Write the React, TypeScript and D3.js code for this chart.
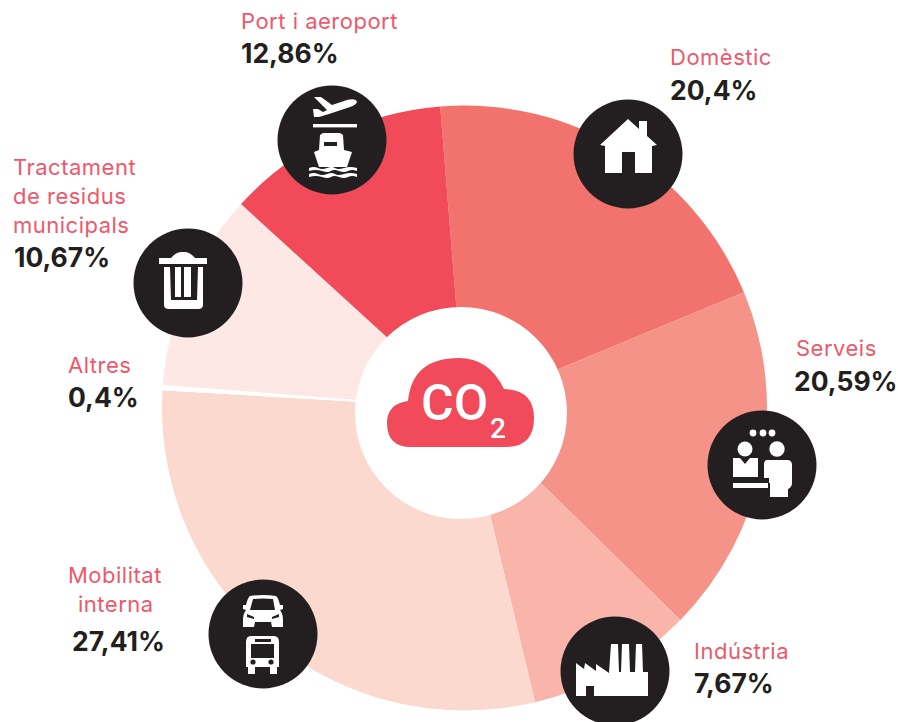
import React from "react";
import * as d3 from "d3";

// Printed labels
const categories = ["Domèstic", "Serveis", "Indústria", "Mobilitat interna", "Altres", "Tractament de residus municipals", "Port i aeroport"];
const printedValues = ["20,4%", "20,59%", "7,67%", "27,41%", "0,4%", "10,67%", "12,86%"];
// Sweep of each slice as it is drawn in the picture (share of the circle)
const drawnShares = [20.03, 18.6, 8.9, 29.68, 0.28, 10.56, 11.95];
const sliceColors = ["#f2726d", "#f59389", "#f9b5aa", "#fbd9cf", "#ffffff", "#fde8e5", "#f14a58"];

const W = 898, H = 722;
const CX = 464.5, CY = 408, R = 302.5;
const HOLE_CX = 461, HOLE_CY = 413, HOLE_R = 106;
const START = (-4.6 * Math.PI) / 180;
const RED = "#f0576a", INK = "#231f20", BADGE = "#231f20";

const pie = d3.pie<number>().sort(null).startAngle(START).endAngle(START + 2 * Math.PI);
const arc = d3.arc<d3.PieArcDatum<number>>().innerRadius(0).outerRadius(R);

type Lab = { lines: { t: string; x: number; y: number }[]; vx: number; vy: number };
const labelLayout: Lab[] = [
  { lines: [{ t: "Domèstic", x: 670, y: 65 }], vx: 670, vy: 100 },
  { lines: [{ t: "Serveis", x: 796, y: 356 }], vx: 794, vy: 391 },
  { lines: [{ t: "Indústria", x: 694, y: 659 }], vx: 694, vy: 693 },
  { lines: [{ t: "Mobilitat", x: 68, y: 583 }, { t: "interna", x: 78, y: 612 }], vx: 72, vy: 651 },
  { lines: [{ t: "Altres", x: 68, y: 373 }], vx: 68, vy: 407 },
  { lines: [{ t: "Tractament", x: 13, y: 175 }, { t: "de residus", x: 13, y: 204 }, { t: "municipals", x: 13, y: 233 }], vx: 14, vy: 267 },
  { lines: [{ t: "Port i aeroport", x: 241, y: 29 }], vx: 241, vy: 63 },
];

const HomeIcon = () => (
  <g fill="#fff">
    <path d="M0,-35 L11,-25 L11,-33 L19,-33 L19,-18 L29,-9 L24,-8 L24,19 L7,19 L7,-2 L-6,-2 L-6,19 L-23,19 L-23,-8 L-28,-9 Z" />
  </g>
);
const ServeisIcon = () => (
  <g fill="#fff">
    {[-9, 1, 10].map((x) => <circle key={x} cx={x} cy={-32} r={3.4} />)}
    <circle cx={-17} cy={-16} r={7.5} />
    <circle cx={15} cy={-16} r={7.7} />
    <path d="M-29,-7 L-22,-7 L-17,-1 L-12,-7 L-4,-7 L-4,12 L-29,12 Z" />
    <path d="M-29,18 L6,18 L6,23 L-29,23 Z" />
    <path d="M5,-5 Q2,-5 2,0 L2,13 L7,13 L7,18 L8,18 L8,32 L26,32 L26,24 Q30,22 30,18 L30,0 Q30,-5 25,-5 Z" />
  </g>
);
const FactoryIcon = () => (
  <g fill="#fff">
    <path d="M-39,-8 L-31,-2 L-30,-8 L-19,0 L-19,-7 L-6,2 L-4,-27 L3,-27 L4,1 L6,1 L7,-27 L14,-27 L15,1 L20,1 L21,-27 L27,-27 L28,1 L33,1 L33,25 L-21,25 L-21,15 L-29,15 L-29,25 L-39,25 Z" />
  </g>
);
const TransportIcon = () => (
  <g fill="#fff">
    <path fillRule="evenodd" d="M-13,-38 Q0,-40 13,-38 Q15,-37 17,-29 L20,-29 L20,-25 L17,-24 Q20,-20 20,-14 L20,-7 L9,-7 L8,-12 L-8,-12 L-9,-7 L-20,-7 L-20,-14 Q-20,-20 -17,-24 L-20,-25 L-20,-29 L-17,-29 Q-15,-37 -13,-38 Z M-10,-35 L-13,-24 L12,-24 L10,-35 Q0,-36 -10,-35 Z M-16,-20 L-16,-17 L-9,-15 L-9,-17 Z M16,-20 L16,-17 L9,-15 L9,-17 Z" />
    <path fillRule="evenodd" d="M-12,2 L11,2 Q16,2 16,8 L16,33 L14,33 L14,40 L7,40 L7,33 L-8,33 L-8,40 L-15,40 L-15,33 L-17,33 L-17,8 Q-17,2 -12,2 Z M-12,10 L-12,24 L11,24 L11,10 Z M-8,5 L-8,8 L8,8 L8,5 Z" />
    <circle cx={-10} cy={28} r={2.6} fill={BADGE} />
    <circle cx={8} cy={28} r={2.6} fill={BADGE} />
  </g>
);
const TrashIcon = () => (
  <g fill="#fff">
    <path d="M-17,-25 Q-11,-32 -5,-31 Q1,-32 7,-25 Z" />
    <rect x={-29} y={-25} width={48} height={6} />
    <path d="M-24,-16 L15,-16 L15,22 Q15,26 10,26 L-19,26 Q-24,26 -24,22 Z" />
    <path fill={BADGE} d="M-18,-16 L-17,17 L9,17 L10,-16 L3,-16 L3,14 L-4,14 L-4,-16 L-7,-16 L-7,14 L-13,14 L-13,-16 Z" />
  </g>
);
const PortIcon = () => (
  <g fill="#fff">
    <path d="M-18,-43 L-11,-43 L0,-35 L15,-40 Q24,-42 25,-38 Q24,-35 18,-33 L-3,-26 L-13,-23 L-18,-23 L-19,-31 L-14,-31 L-9,-28 L-5,-30 Z" />
    <rect x={-19} y={-16} width={44} height={3.4} />
    <path fillRule="evenodd" d="M-12,-5 L-9,-7 L8,-7 L11,-5 L12,10 L20,12 L15,27 L-13,27 L-18,12 L-13,10 Z M-8,2 L-8,6 L5,6 L5,2 Z" />
    <path d="M-23,28 Q-18,26 -14,28 T-5,28 T3,28 T12,28 T25,28 L25,31 Q20,29 16,31 T7,31 T-1,31 T-10,31 T-23,31 Z" />
    <path d="M-23,34 Q-18,32 -14,34 T-5,34 T3,34 T12,34 T25,34 L25,37 Q20,35 16,37 T7,37 T-1,37 T-10,37 T-23,37 Z" />
  </g>
);

const badges = [
  { x: 628, y: 154, Icon: HomeIcon },
  { x: 762, y: 465, Icon: ServeisIcon },
  { x: 615, y: 671, Icon: FactoryIcon },
  { x: 263, y: 634, Icon: TransportIcon },
  { x: 188, y: 283, Icon: TrashIcon },
  { x: 332, y: 140, Icon: PortIcon },
];

export default function App() {
  const slices = pie(drawnShares);
  return (
    <svg width={W} height={H} viewBox={`0 0 ${W} ${H}`} style={{ position: "absolute", left: 0, top: 0, background: "#fff" }}>
      <g transform={`translate(${CX},${CY})`}>
        {slices.map((s, i) => (
          <path key={categories[i]} d={arc(s) || ""} fill={sliceColors[i]} />
        ))}
      </g>
      <circle cx={HOLE_CX} cy={HOLE_CY} r={HOLE_R} fill="#fff" />
      <g transform={`translate(${HOLE_CX},${HOLE_CY})`}>
        <path fill="#f14a5a" d="M-50,34 Q-74,34 -74,10 Q-74,-9 -53,-12 Q-49,-55 -2,-55 Q28,-55 43,-24 Q73,-23 73,5 Q73,34 45,34 Z" />
      </g>
      <text x={421} y={420} fontFamily="Roboto" fontWeight={500} fontSize={50} fill="#fff">CO</text>
      <text x={490} y={438} fontFamily="Roboto" fontWeight={500} fontSize={28} fill="#fff">2</text>
      {badges.map((b, i) => (
        <g key={i} transform={`translate(${b.x},${b.y})`}>
          <circle r={54.5} fill={BADGE} />
          <b.Icon />
        </g>
      ))}
      <g fontFamily="Inter">
        {labelLayout.map((l, i) => (
          <g key={categories[i]}>
            {l.lines.map((ln) => (
              <text key={ln.t} x={ln.x} y={ln.y} fontSize={22} letterSpacing={0.5} fill={RED}>{ln.t}</text>
            ))}
            <text x={l.vx} y={l.vy} fontSize={26.5} fontWeight={700} fill={INK}>{printedValues[i]}</text>
          </g>
        ))}
      </g>
    </svg>
  );
}
